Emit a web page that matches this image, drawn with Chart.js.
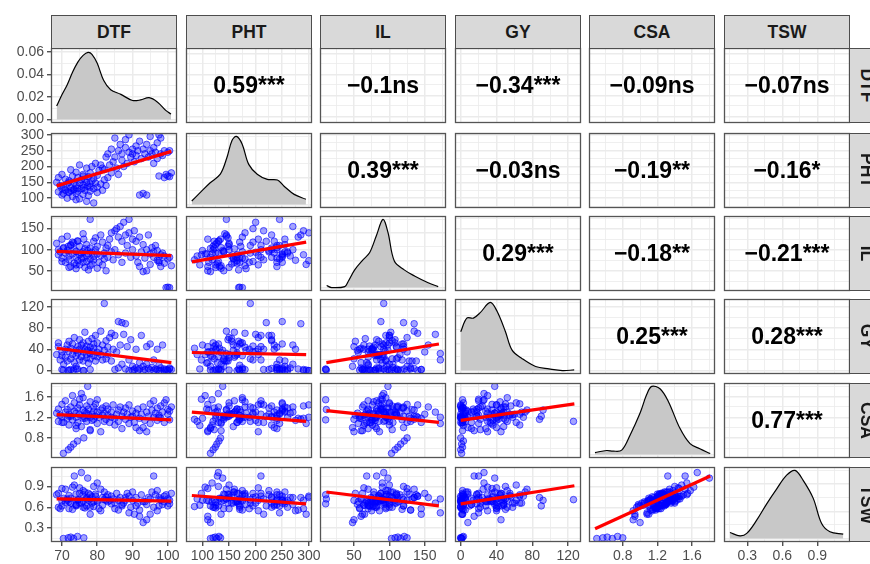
<!DOCTYPE html>
<html>
<head>
<meta charset="utf-8">
<script src="https://cdn.jsdelivr.net/npm/chart.js@4.4.1/dist/chart.umd.min.js"></script>
<style>
    body { margin: 0; background: #fff; font-family: "Liberation Sans", Arial, sans-serif; }
    #wrap { position: relative; width: 870px; height: 564px; overflow: hidden; background: #fff; }
    #wrap canvas { position: absolute; }
    .strip {
        position: absolute; box-sizing: border-box; background: #d9d9d9; border: 1.3px solid #4d4d4d;
        font-weight: bold; font-size: 17.5px; color: #1a1a1a;
        display: flex; align-items: center; justify-content: center;
    }
    .strip.side span { display: inline-block; transform: rotate(90deg); }
    .cor {
        position: absolute; font-weight: bold; font-size: 23px; color: #000;
        display: flex; align-items: center; justify-content: center;
    }
</style>
</head>
<body>
<div id="wrap"></div>
<script>
// ---- data (one row per observation) ----
const dtf = [
    68.5, 69, 69, 69.5, 70, 70, 70.5, 71, 71, 71.5,
    71.5, 72, 72, 72.5, 72.5, 73, 73, 73.5, 73.5, 74,
    74, 74, 74.5, 74.5, 75, 75, 75, 75.5, 75.5, 76,
    76, 76, 76.5, 76.5, 77, 77, 77, 77.3, 77.5, 77.5,
    78, 78, 78, 78.5, 78.5, 79, 79, 79, 79.5, 79.5,
    80, 80, 80, 80.5, 81, 81, 81.5, 81.5, 82, 82, 82.5, 82.5,
    70, 72, 74, 76, 78,
    70.4, 71.8, 72.5, 73.3, 74.4, 76.2,
    83, 83, 83.5, 84, 84, 84.5, 85, 85, 85.5, 86, 86, 86.5,
    87, 87, 87.5, 88, 88, 88.5, 89, 89, 89.5, 90,
    90, 90.5, 91, 91, 91.5, 92, 92, 92.5, 93, 93,
    93.5, 94, 94, 94.5, 95, 95, 95.5, 96, 96, 96.5,
    97, 97, 97.5, 98, 98, 98.5, 99, 99, 99.5, 100,
    100.5, 100, 101, 100.5, 97.5
];
const pht = [
    150, 120, 165, 140, 110, 175, 135, 125, 160, 100,
    145, 155, 118, 190, 132, 105, 170, 128, 150, 115,
    182, 140, 122, 165, 98, 148, 205, 130, 158, 112,
    142, 175, 125, 160, 90, 150, 195, 138, 168, 108,
    145, 180, 122, 155, 200, 130, 162, 85, 148, 210,
    135, 172, 118, 188, 145, 205, 125, 195, 190, 158, 230, 140,
    130, 150, 95, 170, 135,
    115, 120, 124, 127, 131, 134,
    240, 165, 205, 255, 180, 215, 290, 230, 195, 250, 175, 270,
    220, 240, 200, 285, 260, 210, 245, 300, 230, 255,
    240, 215, 265, 235, 250, 110, 280, 225, 115, 255,
    240, 110, 270, 230, 250, 295, 240, 260, 210, 245,
    275, 225, 170, 290, 240, 235, 165, 250, 175, 170,
    168, 245, 180, 250, 300
];
const il = [
    115, 100, 88, 95, 125, 80, 105, 92, 70, 98,
    132, 85, 76, 110, 60, 90, 118, 68, 100, 82,
    55, 96, 120, 74, 88, 108, 64, 92, 80, 70,
    138, 95, 58, 102, 85, 112, 72, 98, 52, 90,
    172, 78, 104, 66, 94, 120, 84, 76, 128, 100,
    56, 108, 90, 70, 135, 86, 64, 118, 92, 78, 104, 50,
    72, 58, 64, 80, 62,
    103, 108, 112, 116, 121, 125,
    110, 82, 125, 95, 140, 76, 145, 100, 150, 88, 130, 155,
    120, 70, 165, 135, 92, 110, 172, 140, 82, 125,
    100, 145, 85, 120, 70, 60, 130, 95, 48, 112,
    80, 50, 100, 135, 90, 65, 105, 95, 82, 110,
    75, 98, 70, 88, 60, 92, 68, 85, 10, 11,
    10, 78, 62, 82, 74
];
const gy = [
    30, 52, 45, 20, 35, 28, 12, 40, 25, 48,
    18, 55, 36, 22, 42, 30, 50, 15, 62, 28,
    38, 8, 45, 33, 20, 58, 40, 26, 48, 35,
    18, 52, 40, 72, 30, 24, 46, 38, 55, 14,
    32, 44, 22, 60, 36, 50, 28, 42, 18, 66,
    34, 52, 26, 40, 74, 30, 48, 20, 126, 38, 56, 22,
    2, 1, 3, 0, 2,
    1, 0, 2, 1, 3, 0,
    44, 30, 62, 18, 70, 40, 2, 66, 35, 92, 5, 48,
    90, 12, 68, 88, 3, 45, 20, 0, 58, 8,
    0, 2, 5, 40, 1, 15, 3, 66, 8, 0,
    2, 45, 12, 4, 50, 1, 6, 0, 20, 3,
    40, 2, 10, 0, 5, 48, 0, 3, 2, 1,
    3, 0, 2, 5, 0
];
const csa = [
    1.28, 1.12, 1.36, 1.24, 1.45, 1.20, 1.10, 1.30, 1.52, 1.18,
    1.35, 1.26, 1.05, 1.40, 1.22, 1.62, 1.15, 1.32, 1.48, 0.98,
    1.28, 1.20, 1.38, 1.10, 1.55, 1.25, 1.44, 1.66, 1.02, 1.34,
    1.22, 1.58, 1.18, 1.30, 1.12, 1.42, 1.28, 1.80, 1.24, 1.36,
    1.20, 1.50, 0.96, 1.26, 1.14, 1.40, 1.32, 1.16, 1.22, 1.46,
    1.08, 1.30, 1.54, 1.20, 1.34, 0.92, 1.24, 1.38, 1.12, 1.28, 1.42, 1.16,
    1.10, 1.22, 1.04, 1.18, 0.94,
    0.50, 0.57, 0.62, 0.68, 0.74, 0.80,
    1.24, 1.36, 1.10, 1.30, 1.20, 1.44, 1.18, 1.05, 1.26, 1.34, 1.12, 1.40,
    1.22, 0.98, 1.30, 1.16, 1.38, 1.26, 1.08, 1.44, 1.20, 1.32,
    1.22, 1.10, 1.28, 1.00, 1.36, 0.94, 1.18, 1.26, 1.00, 1.40,
    1.14, 0.92, 1.30, 1.22, 1.46, 1.08, 1.34, 1.20, 1.52, 1.28,
    1.14, 1.38, 1.24, 1.42, 1.18, 1.30, 1.10, 1.48, 1.54, 1.35,
    1.15, 1.26, 1.40, 1.32, 1.20
];
const tsw = [
    0.78, 0.60, 0.80, 0.58, 0.87, 0.69, 0.73, 0.67, 0.86, 0.70,
    0.72, 0.77, 0.68, 0.66, 0.73, 0.89, 0.57, 1.05, 0.92, 0.62,
    0.64, 0.79, 0.71, 0.70, 0.80, 0.66, 0.88, 1.10, 0.66, 0.69,
    0.78, 0.84, 0.59, 0.82, 0.72, 0.74, 0.62, 1.02, 0.80, 0.70,
    0.72, 0.78, 0.60, 0.66, 0.75, 0.90, 0.68, 0.61, 0.79, 0.76,
    0.68, 0.70, 0.95, 0.58, 0.86, 0.55, 0.63, 0.74, 0.71, 0.82, 0.75, 0.70,
    0.62, 0.58, 0.63, 0.60, 0.50,
    0.15, 0.16, 0.17, 0.15, 0.18, 0.16,
    0.78, 0.68, 0.70, 0.65, 0.76, 0.72, 0.58, 0.66, 0.80, 0.70, 0.56, 0.74,
    0.62, 0.64, 0.66, 0.74, 0.70, 0.80, 0.52, 0.76, 0.60, 0.82,
    0.70, 0.50, 0.74, 0.62, 0.66, 0.47, 0.56, 0.78, 0.38, 0.68,
    0.68, 0.42, 0.64, 0.74, 0.72, 0.50, 0.82, 0.60, 1.05, 0.78,
    0.55, 0.84, 0.62, 0.70, 0.72, 0.64, 0.68, 0.76, 0.78, 0.72,
    0.65, 0.62, 0.80, 0.70, 0.74
];

// density curves on the diagonal (DTF in real units, the rest relative to the peak)
const dtfDensX = [68.5, 70, 71.5, 73, 74.5, 76, 77.4, 78.5, 80, 81.8, 83.8, 86.7, 90, 92.3, 94.7, 97.1, 99.5, 100.9];
const dtfDensY = [0.012, 0.022, 0.031, 0.042, 0.051, 0.057, 0.0597, 0.058, 0.050, 0.035, 0.0266, 0.0224, 0.017, 0.0175, 0.0195, 0.0155, 0.008, 0.005];
const phtDensX = [79.8, 95.5, 114.5, 133.5, 146, 155.5, 163.8, 174.5, 187, 203, 222, 241, 253.5, 272.5, 294.6];
const phtDensY = [0.053, 0.175, 0.32, 0.446, 0.69, 0.94, 1.0, 0.89, 0.59, 0.446, 0.37, 0.36, 0.27, 0.15, 0.078];
const ilDensX = [11.4, 18.4, 37, 41.8, 51, 63, 72, 81.6, 91, 98, 107, 121, 135.5, 154, 169];
const ilDensY = [0.03, 0.0, 0.015, 0.09, 0.26, 0.41, 0.51, 0.76, 1.0, 0.81, 0.39, 0.26, 0.17, 0.075, 0.015];
const gyDensX = [0, 6.8, 14.2, 21.8, 33, 40.6, 50, 57.4, 68.7, 83.7, 98.7, 113.7, 126.8];
const gyDensY = [0.57, 0.77, 0.77, 0.85, 1.0, 0.87, 0.57, 0.30, 0.175, 0.06, 0.025, 0.0, 0.01];
const csaDensX = [0.479, 0.614, 0.69, 0.788, 0.884, 1.0, 1.076, 1.134, 1.23, 1.326, 1.46, 1.577, 1.69, 1.81];
const csaDensY = [0.03, 0.06, 0.05, 0.065, 0.285, 0.61, 0.88, 1.0, 0.965, 0.78, 0.385, 0.16, 0.085, 0.015];
const tswDensX = [0.151, 0.237, 0.295, 0.38, 0.466, 0.552, 0.637, 0.709, 0.78, 0.865, 0.937, 1.008, 1.122];
const tswDensY = [0.09, 0.04, 0.076, 0.27, 0.51, 0.73, 0.93, 1.0, 0.85, 0.59, 0.22, 0.10, 0.065];

// fitted lines [row var, col var, x1, y1, x2, y2]
const fitLines = [
    ['PHT', 'DTF', 68.5, 139, 101, 248],
    ['IL', 'DTF', 68.5, 96, 101, 86],
    ['IL', 'PHT', 80, 71, 295, 118],
    ['GY', 'DTF', 68.5, 42, 101, 15],
    ['GY', 'PHT', 80, 34, 295, 30],
    ['GY', 'IL', 11, 15, 170, 50],
    ['CSA', 'DTF', 68.5, 1.25, 101, 1.15],
    ['CSA', 'PHT', 80, 1.30, 295, 1.12],
    ['CSA', 'IL', 11, 1.33, 170, 1.10],
    ['CSA', 'GY', 0, 1.14, 127, 1.46],
    ['TSW', 'DTF', 68.5, 0.72, 101, 0.69],
    ['TSW', 'PHT', 80, 0.77, 295, 0.65],
    ['TSW', 'IL', 11, 0.82, 170, 0.62],
    ['TSW', 'GY', 0, 0.65, 127, 0.91],
    ['TSW', 'CSA', 0.48, 0.29, 1.81, 1.05],
];

// upper triangle, row by row
const corrText = [
    '0.59***', '\u22120.1ns', '\u22120.34***', '\u22120.09ns', '\u22120.07ns',
    '0.39***', '\u22120.03ns', '\u22120.19**', '\u22120.16*',
    '0.29***', '\u22120.18**', '\u22120.21***',
    '0.25***', '0.28***',
    '0.77***',
];

const varNames = ['DTF', 'PHT', 'IL', 'GY', 'CSA', 'TSW'];
const varData = [dtf, pht, il, gy, csa, tsw];
const varLims = [[66.9, 102.6], [69, 306], [2, 180], [-6.4, 134.4], [0.41, 1.865], [0.10, 1.18]];
const varTicks = [[70, 80, 90, 100], [100, 150, 200, 250, 300], [50, 100, 150], [0, 40, 80, 120], [0.8, 1.2, 1.6], [0.3, 0.6, 0.9]];
const varDigits = [0, 0, 0, 0, 1, 1];
const densX = [dtfDensX, phtDensX, ilDensX, gyDensX, csaDensX, tswDensX];
const densY = [dtfDensY, phtDensY, ilDensY, gyDensY, csaDensY, tswDensY];
const dtfDensLim = [-0.003, 0.0636];
const dtfDensTicks = [0, 0.02, 0.04, 0.06];
const relDensLim = [-0.05, 1.05];
const relDensTicks = [0, 0.4, 0.8];

// ---- layout ----
const M = 20, PW = 126, PH = 75, YAX = 51, XAX = 24;
const colLeft = [51, 186, 320, 455, 589, 724];
const rowTop = [48, 133, 216, 299, 383, 467];
const wrap = document.getElementById('wrap');

const panelFrame = {
    id: 'panelFrame',
    beforeDraw(chart) {
        const { ctx, chartArea: a } = chart;
        ctx.save();
        ctx.fillStyle = '#ffffff';
        ctx.fillRect(a.left, a.top, a.width, a.height);
        ctx.restore();
    },
    afterDraw(chart) {
        const { ctx, chartArea: a } = chart;
        ctx.save();
        ctx.strokeStyle = '#555555';
        ctx.lineWidth = 1.3;
        ctx.strokeRect(a.left + 0.5, a.top + 0.5, a.width - 1, a.height - 1);
        ctx.restore();
    }
};

function allTicks(majors, lim) {
    const step = majors[1] - majors[0];
    const list = [];
    majors.forEach((v, i) => {
        list.push(v);
        list.push(v + step / 2);
        if (i === 0) list.push(v - step / 2);
    });
    return list.filter(v => v >= lim[0] && v <= lim[1]).sort((a, b) => a - b);
}

function axisOpts(lim, majors, digits, showLabels, horizontal) {
    const ticks = allTicks(majors, lim);
    const isMajor = v => majors.some(t => Math.abs(t - v) < 1e-9);
    return {
        type: 'linear',
        position: horizontal ? 'bottom' : 'left',
        bounds: 'data',
        min: lim[0],
        max: lim[1],
        afterBuildTicks: s => { s.ticks = ticks.map(v => ({ value: v })); },
        afterFit: s => {
            if (horizontal) s.height = showLabels ? XAX : 0;
            else s.width = showLabels ? YAX : 0;
        },
        border: { display: false },
        grid: {
            color: '#ebebeb',
            lineWidth: ctx => (ctx.tick && isMajor(ctx.tick.value) ? 1.5 : 0.8),
            drawTicks: showLabels,
            tickLength: 4,
            tickWidth: 1.2,
            tickColor: ctx => (ctx.tick && isMajor(ctx.tick.value) ? '#333333' : 'rgba(0,0,0,0)'),
        },
        ticks: {
            display: showLabels,
            autoSkip: false,
            maxRotation: 0,
            padding: horizontal ? 2 : 3,
            color: '#4d4d4d',
            font: { family: '"Liberation Sans", Arial, sans-serif', size: 14 },
            callback: v => (isMajor(v) ? Number(v).toFixed(digits) : ''),
        },
    };
}

let corrIndex = 0;
for (let r = 0; r < 6; r++) {
    for (let c = 0; c < 6; c++) {
        const showY = c === 0;
        const showX = r === 5;
        const canvas = document.createElement('canvas');
        const w = M + (showY ? YAX : 0) + PW + M;
        const h = M + PH + (showX ? XAX : 0) + M;
        canvas.width = w;
        canvas.height = h;
        canvas.style.left = (colLeft[c] - M - (showY ? YAX : 0)) + 'px';
        canvas.style.top = (rowTop[r] - M) + 'px';
        canvas.style.width = w + 'px';
        canvas.style.height = h + 'px';
        wrap.appendChild(canvas);

        const datasets = [];
        let yLim = varLims[r], yTicks = varTicks[r], yDigits = varDigits[r];
        if (r === c) {
            if (r === 0) { yLim = dtfDensLim; yTicks = dtfDensTicks; yDigits = 2; }
            else { yLim = relDensLim; yTicks = relDensTicks; yDigits = 1; }
            datasets.push({
                type: 'line',
                data: densX[c].map((x, i) => ({ x: x, y: densY[c][i] })),
                borderColor: '#000000',
                borderWidth: 1.2,
                backgroundColor: '#c8c8c8',
                fill: 'origin',
                tension: 0.35,
                pointRadius: 0,
            });
        } else if (r > c) {
            const fit = fitLines.find(f => f[0] === varNames[r] && f[1] === varNames[c]);
            datasets.push({
                type: 'line',
                data: [{ x: fit[2], y: fit[3] }, { x: fit[4], y: fit[5] }],
                borderColor: '#ff0000',
                borderWidth: 3.2,
                pointRadius: 0,
                order: 0,
            });
            datasets.push({
                type: 'scatter',
                data: varData[c].map((x, i) => ({ x: x, y: varData[r][i] })),
                pointRadius: 3.3,
                pointBackgroundColor: 'rgba(0, 0, 255, 0.36)',
                pointBorderColor: 'rgba(0, 0, 255, 0.6)',
                pointBorderWidth: 1,
                order: 1,
            });
        } else {
            const div = document.createElement('div');
            div.className = 'cor';
            div.style.left = colLeft[c] + 'px';
            div.style.top = rowTop[r] + 'px';
            div.style.width = PW + 'px';
            div.style.height = PH + 'px';
            div.textContent = corrText[corrIndex++];
            setTimeout(() => wrap.appendChild(div), 0);
        }

        new Chart(canvas, {
            type: 'scatter',
            data: { datasets },
            options: {
                responsive: false,
                animation: false,
                devicePixelRatio: 1,
                events: [],
                layout: { padding: { left: M, right: M, top: M, bottom: M } },
                plugins: { legend: { display: false }, tooltip: { enabled: false } },
                scales: {
                    x: axisOpts(varLims[c], varTicks[c], varDigits[c], showX, true),
                    y: axisOpts(yLim, yTicks, yDigits, showY, false),
                },
            },
            plugins: [panelFrame],
        });
    }
}

// strips
varNames.forEach((name, i) => {
    const top = document.createElement('div');
    top.className = 'strip';
    top.style.left = colLeft[i] + 'px';
    top.style.top = '15px';
    top.style.width = PW + 'px';
    top.style.height = '34px';
    top.textContent = name;
    wrap.appendChild(top);

    const side = document.createElement('div');
    side.className = 'strip side';
    side.style.left = '849px';
    side.style.top = rowTop[i] + 'px';
    side.style.width = '35px';
    side.style.height = PH + 'px';
    side.innerHTML = '<span>' + name + '</span>';
    wrap.appendChild(side);
});
</script>
</body>
</html>
